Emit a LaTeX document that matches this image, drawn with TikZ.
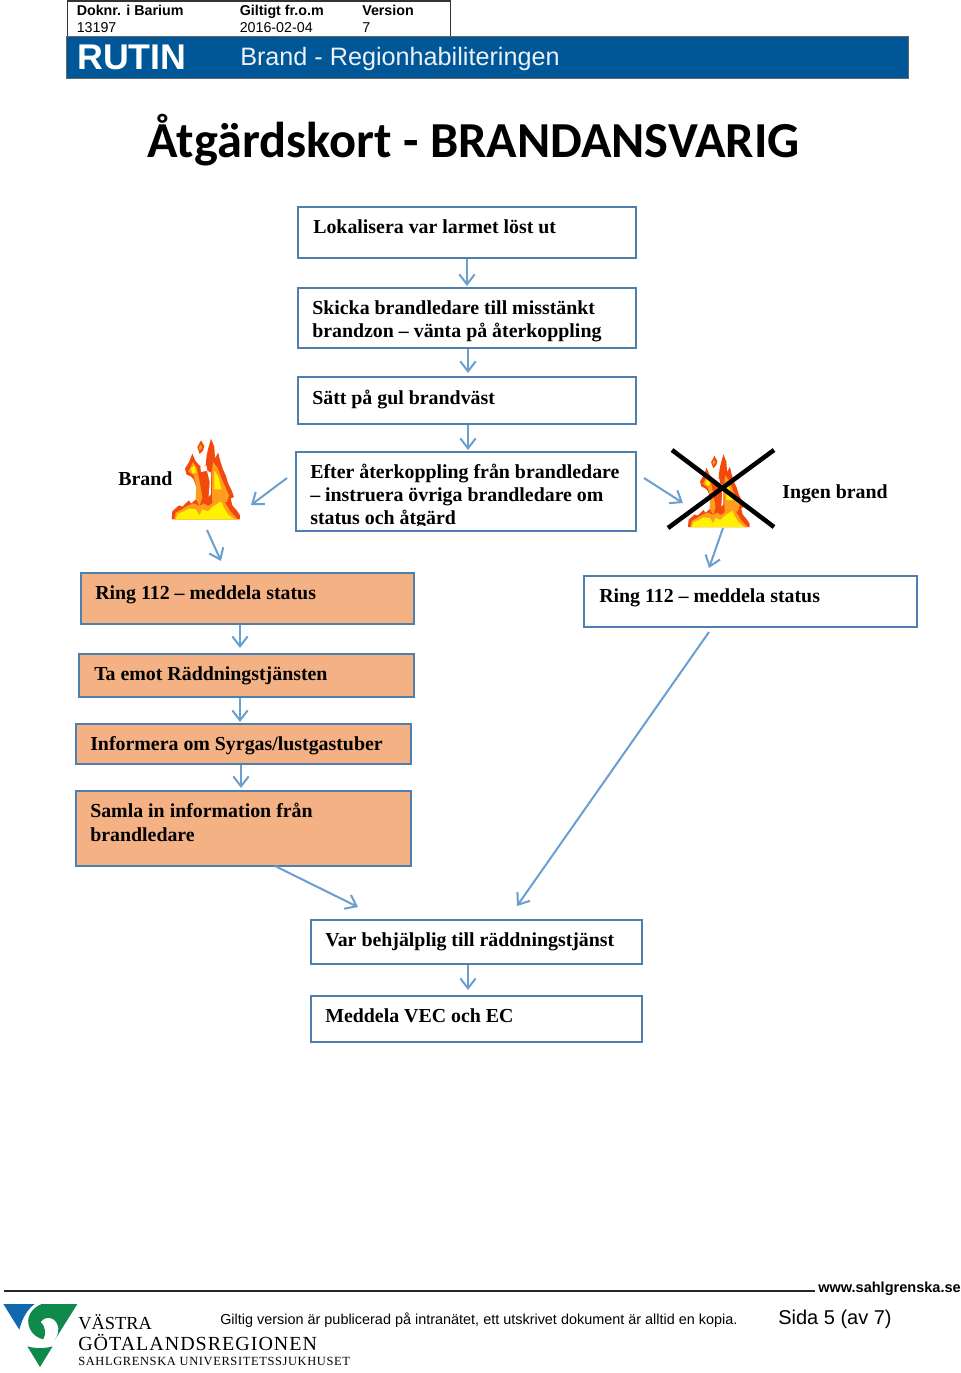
\documentclass[tikz,border=0pt]{standalone}
\usepackage{fontspec}
\setmainfont{Liberation Serif}
\newfontfamily\arialf{Liberation Sans}
\newfontfamily\titlef{Carlito}
\newfontfamily\logof{Liberation Serif}
\newfontfamily\logofs[LetterSpace=5]{Liberation Serif}
\usetikzlibrary{arrows.meta}
\definecolor{linkblue}{HTML}{6A9FCF}
\definecolor{edgeblue}{HTML}{4F7FAE}
\definecolor{peach}{HTML}{F4B183}
\definecolor{bandblue}{HTML}{005797}
\definecolor{fred}{HTML}{F24A0C}
\definecolor{forange}{HTML}{FF9D1E}
\definecolor{fyellow}{HTML}{FFF200}
\definecolor{logoblue}{HTML}{0F68B0}
\definecolor{logogreen}{HTML}{0F8A4A}
\def\u{0.75pt}
\tikzset{
  x=0.75pt,y=-0.75pt,
  boxplain/.style={draw=edgeblue,line width=1.5pt,fill=white,inner sep=0pt,anchor=north west},
  boxpeach/.style={boxplain,fill=peach},
  link/.style={draw=linkblue,line width=1.5pt,-{Straight Barb[length=7.5pt,width=11.5pt,line width=1.5pt]}},
  boxtext/.style={anchor=base west,inner sep=0pt,font=\bfseries\fontsize{14.9pt}{17pt}\selectfont},
  headbold/.style={anchor=base west,inner sep=0pt,font=\arialf\bfseries\fontsize{10.7pt}{12pt}\selectfont},
  headreg/.style={anchor=base west,inner sep=0pt,font=\arialf\fontsize{10.7pt}{12pt}\selectfont},
  crossline/.style={draw=black,line width=3.4pt},
}
\newcommand{\bx}[6]{\node[#6,minimum width={(#4-#2)*\u},minimum height={(#5-#3)*\u}] (#1) at (#2-1,#3-1) {};}
\newcommand{\flamedraw}[3]{%
\begin{scope}[shift={(#1,#2)},scale=#3]
\fill[fred] (20,262)--(22,238)--(42,220)--(52,224)--(72,205)--(78,215)--(95,200)--(94,165)--(86,142)--(76,132)--(65,128)--(60,110)--(72,90)--(82,65)--(92,88)--(108,105)--(122,100)--(125,70)--(130,48)--(138,20)--(148,45)--(150,78)--(160,62)--(165,85)--(175,115)--(182,130)--(190,155)--(200,175)--(207,195)--(197,200)--(202,220)--(215,235)--(225,250)--(225,262)--cycle;
\fill[fred] (108,25)--(118,42)--(114,56)--(104,66)--(97,46)--cycle;
\fill[forange] (107,38)--(112,46)--(104,56)--(102,46)--cycle;
\fill[white] (106,104)--(124,100)--(127,116)--(108,120)--cycle;
\fill[white] (126,116)--(138,122)--(138,186)--(131,194)--(134,150)--cycle;
\fill[forange] (70,118)--(84,90)--(96,110)--(102,140)--(112,195)--(104,222)--(92,200)--(94,160)--(86,130)--cycle;
\fill[forange] (144,90)--(158,108)--(172,145)--(192,190)--(186,210)--(142,214)--(140,125)--cycle;
\fill[forange] (28,262)--(32,242)--(50,232)--(66,222)--(86,214)--(104,222)--(116,214)--(130,222)--(150,208)--(172,200)--(182,215)--(196,238)--(218,262)--cycle;
\fill[fyellow] (32,262)--(38,246)--(56,238)--(72,230)--(92,232)--(104,250)--(112,232)--(128,238)--(146,222)--(168,208)--(176,226)--(188,246)--(208,262)--cycle;
\fill[fyellow] (78,110)--(88,100)--(94,122)--(82,124)--cycle;
\fill[fyellow] (148,115)--(160,135)--(170,172)--(148,172)--cycle;
\end{scope}}
\begin{document}
\begin{tikzpicture}
\useasboundingbox[fill=white] (0,0) rectangle (960,1373);
% header
\node[draw=black!80,line width=0.9pt,fill=white,inner sep=0pt,anchor=north west,minimum width=383*\u,minimum height=36*\u] (docbox) at (66.5,0.5) {};
\node[fill=bandblue,draw=black!60,line width=0.5pt,inner sep=0pt,anchor=north west,minimum width=842*\u,minimum height=42*\u] (band) at (66,36) {};
\node[headbold] (h1) at (76.5,16) {Doknr. i Barium};
\node[headreg] (h2) at (76.5,32.5) {13197};
\node[headbold] (h3) at (239.5,16) {Giltigt fr.o.m};
\node[headreg] (h4) at (239.5,32.5) {2016-02-04};
\node[headbold] (h5) at (362,16) {Version};
\node[headreg] (h6) at (362,32.5) {7};
\node[anchor=base west,inner sep=0pt,text=white,font=\arialf\bfseries\fontsize{26.8pt}{30pt}\selectfont] (rutin) at (77,70) {RUTIN};
\node[anchor=base west,inner sep=0pt,text=white!92!bandblue,font=\arialf\fontsize{18.9pt}{22pt}\selectfont] (brandreg) at (240,66) {Brand - Regionhabiliteringen};
\node[anchor=base west,inner sep=0pt,font=\titlef\bfseries\fontsize{37.8pt}{42pt}\selectfont] (title) at (147.5,158) {Åtgärdskort - BRANDANSVARIG};
% boxes
\bx{b1}{298}{207}{636}{258}{boxplain}
\bx{b2}{298}{288}{636}{348}{boxplain}
\bx{b3}{298}{377}{636}{424}{boxplain}
\bx{b4}{296}{452}{636}{531}{boxplain}
\bx{ringl}{81}{573}{414}{624}{boxpeach}
\bx{ringr}{584}{576}{917}{627}{boxplain}
\bx{taemot}{79}{654}{414}{697}{boxpeach}
\bx{inform}{76}{724}{411}{764}{boxpeach}
\bx{samla}{76}{791}{411}{866}{boxpeach}
\bx{behj}{311}{920}{642}{964}{boxplain}
\bx{medd}{311}{996}{642}{1042}{boxplain}
% box texts
\node[boxtext] (t1) at (313,233.5) {Lokalisera var larmet löst ut};
\node[boxtext] (t2a) at (312,314) {Skicka brandledare till misstänkt};
\node[boxtext] (t2b) at (312,337) {brandzon – vänta på återkoppling};
\node[boxtext] (t3) at (312,404) {Sätt på gul brandväst};
\node[boxtext] (t4a) at (310,478) {Efter återkoppling från brandledare};
\node[boxtext] (t4b) at (310,501) {– instruera övriga brandledare om};
\begin{scope}
\clip (298,505) rectangle (634,525);
\node[boxtext] (t4c) at (310,524) {status och åtgärd};
\end{scope}
\node[boxtext] (brandlbl) at (118,485) {Brand};
\node[boxtext] (ingen) at (782,498) {Ingen brand};
\node[boxtext] (t5) at (95,599) {Ring 112 – meddela status};
\node[boxtext] (t6) at (599,602) {Ring 112 – meddela status};
\node[boxtext] (t7) at (94,680) {Ta emot Räddningstjänsten};
\node[boxtext] (t8) at (90,750) {Informera om Syrgas/lustgastuber};
\node[boxtext] (t9a) at (90,817) {Samla in information från};
\node[boxtext] (t9b) at (90,841) {brandledare};
\node[boxtext] (t10) at (325,946) {Var behjälplig till räddningstjänst};
\node[boxtext] (t11) at (325,1022) {Meddela VEC och EC};
% flames
\flamedraw{165}{432}{0.3333}
\flamedraw{682}{448.4}{0.3}
\draw[crossline] (672,450) coordinate (xa) -- (774,527) coordinate (xb);
\draw[crossline] (668,528) coordinate (xc) -- (774,450) coordinate (xd);
% free ends
\coordinate (p1) at (287,478);\coordinate (p2) at (251,505);
\coordinate (p3) at (207,530);\coordinate (p4) at (221,561);
\coordinate (p5) at (644,478);\coordinate (p6) at (683,503);
\coordinate (p7) at (723,528);\coordinate (p8) at (709,568);
\coordinate (p9) at (275,866);\coordinate (p10) at (358,907);
\coordinate (p11) at (709,632);\coordinate (p12) at (517,906);
% connectors
\draw[link] (b1.south -| 467,0) -- ([yshift=.75pt]b2.north -| 467,0);
\draw[link] (b2.south -| 468,0) -- ([yshift=2.25pt]b3.north -| 468,0);
\draw[link] (b3.south -| 468,0) -- ([yshift=.75pt]b4.north -| 468,0);
\draw[link] (p1) -- (p2);
\draw[link] (p3) -- (p4);
\draw[link] (p5) -- (p6);
\draw[link] (p7) -- (p8);
\draw[link] (ringl.south -| 240,0) -- ([yshift=3.75pt]taemot.north -| 240,0);
\draw[link] (taemot.south -| 240,0) -- ([yshift=.75pt]inform.north -| 240,0);
\draw[link] (inform.south -| 241,0) -- ([yshift=1.5pt]samla.north -| 241,0);
\draw[link] (p9) -- (p10);
\draw[link] (p11) -- (p12);
\draw[link] (behj.south -| 468,0) -- ([yshift=3.75pt]medd.north -| 468,0);
% footer
\coordinate (fl) at (4,1291);\coordinate (fr) at (815,1291);
\draw[black!85,line width=1pt] (fl) -- (fr);
\node[anchor=base west,inner sep=0pt,font=\arialf\bfseries\fontsize{10.9pt}{12pt}\selectfont] (www) at (818,1292) {www.sahlgrenska.se};
\node[anchor=base west,inner sep=0pt,font=\arialf\fontsize{10.82pt}{12pt}\selectfont] (giltig) at (220,1324) {Giltig version är publicerad på intranätet, ett utskrivet dokument är alltid en kopia.};
\node[anchor=base west,inner sep=0pt,font=\arialf\fontsize{15pt}{17pt}\selectfont] (sida) at (778,1324) {Sida 5 (av 7)};
% logo
\begin{scope}[shift={(0,1298)},scale=0.3333]
\fill[logoblue] (10,18)--(104,18) .. controls (85,32) and (68,55) .. (58,95)--cycle;
\fill[logogreen] (232,18)--(125,18) .. controls (95,30) and (82,55) .. (85,75) .. controls (88,100) and (105,118) .. (130,124) .. controls (138,110) and (138,85) .. (122,72) .. controls (135,52) and (170,55) .. (175,90) .. controls (175,105) and (172,115) .. (165,125)--cycle;
\fill[logogreen] (82,145) .. controls (105,152) and (135,152) .. (158,145)--(120,207)--cycle;
\end{scope}
\node[anchor=base west,inner sep=0pt,font=\logof\fontsize{13.8pt}{17pt}\selectfont] (l1) at (78,1329) {VÄSTRA};
\node[anchor=base west,inner sep=0pt,font=\logofs\fontsize{15pt}{17pt}\selectfont] (l2) at (78,1350) {GÖTALANDSREGIONEN};
\node[anchor=base west,inner sep=0pt,font=\logofs\fontsize{9.35pt}{11pt}\selectfont] (l3) at (78,1365) {SAHLGRENSKA UNIVERSITETSSJUKHUSET};
\end{tikzpicture}
\end{document}
